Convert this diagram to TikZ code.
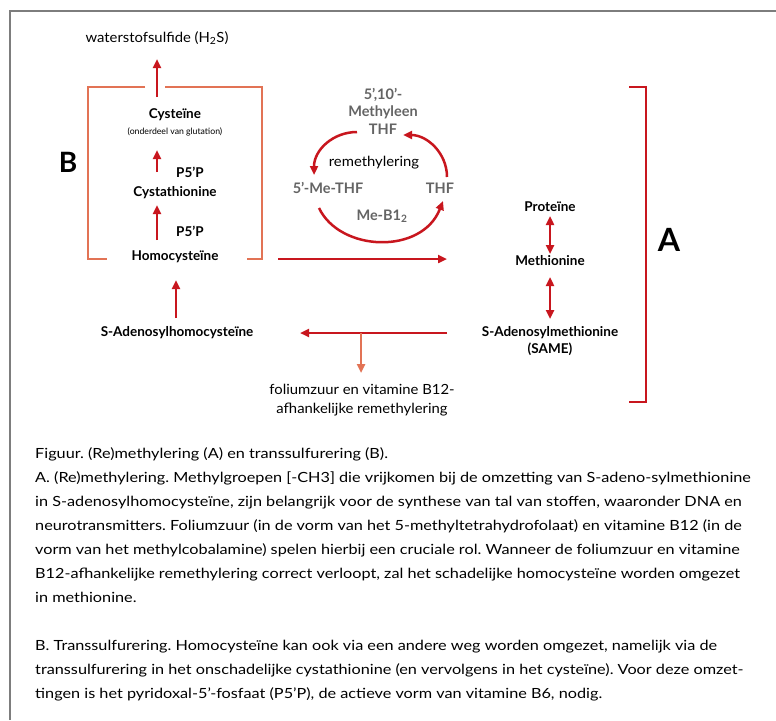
\documentclass[tikz,border=0pt]{standalone}
\usepackage{fontspec}
\setmainfont{Lato}
\newfontfamily\capfont[FakeStretch=1.16]{Lato}
\newfontfamily\regfont[FakeStretch=1.06]{Lato}
\usetikzlibrary{arrows.meta}
\definecolor{myred}{RGB}{200,22,30}
\definecolor{myorange}{RGB}{226,115,85}
\definecolor{mygray}{RGB}{100,100,100}
\definecolor{framegray}{RGB}{125,125,125}
\frenchspacing
\begin{document}
\begin{tikzpicture}[x=1pt,y=-1pt,
  lbl/.style={font=\bfseries\fontsize{13.5}{16.5}\selectfont, inner sep=0pt, align=center},
  glbl/.style={font=\bfseries\fontsize{14.5}{17.5}\selectfont, text=mygray, inner sep=0pt, align=center},
  reg/.style={font=\regfont\fontsize{14}{19.5}\selectfont, inner sep=0pt, align=center},
  smalltxt/.style={font=\fontsize{8.7}{10}\selectfont, inner sep=0pt},
  bigtxt/.style={font=\bfseries\fontsize{28}{30}\selectfont, inner sep=0pt},
  captxt/.style={font=\capfont\fontsize{14}{24}\selectfont, inner sep=0pt, anchor=base west},
  arr/.style={myred, line width=2.5pt, -{Triangle[length=9pt,width=8pt]}},
  darr/.style={myred, line width=2.5pt, {Triangle[length=9pt,width=8pt]}-{Triangle[length=9pt,width=8pt]}},
  oarr/.style={myorange, line width=2.5pt, -{Triangle[length=9pt,width=8pt]}},
  brB/.style={myorange, line width=2.5pt},
  brA/.style={myred, line width=2.5pt}
]
\useasboundingbox (0,0) rectangle (776,720);
\fill[white] (0,0) rectangle (776,720);
% frame
\draw[framegray, line width=2pt] (10,720) -- (10,11) -- (776,11);

% ---- B part ----
\node[reg] (h2s) at (157,38) {waterstofsulfide (H\textsubscript{2}S)};
\node[lbl] (cys) at (175,115) {Cysteïne};
\node[smalltxt] (glut) at (175,132) {(onderdeel van glutation)};
\node[lbl] (p1) at (190,172) {P5’P};
\node[lbl] (cysta) at (175,193) {Cystathionine};
\node[lbl] (p2) at (190,231) {P5’P};
\node[lbl] (homo) at (175,257) {Homocysteïne};
\node[bigtxt] (B) at (68,162) {B};

\coordinate (a0s) at (157,97);
\coordinate (a0e) at (157,59);
\coordinate (a1s) at (157,172);
\coordinate (a1e) at (157,150);
\coordinate (a2s) at (157,240);
\coordinate (a2e) at (157,205);
\draw[arr] (a0s) -- (a0e);
\draw[arr] (a1s) -- (a1e);
\draw[arr] (a2s) -- (a2e);

% bracket B
\draw[brB] (145,87) -- (88,87) -- (88,259) -- (107,259);
\draw[brB] (165,87) -- (262,87) -- (262,259) -- (247,259);

% ---- bottom left ----
\node[lbl] (sah) at (177,333) {S-Adenosylhomocysteïne};
\coordinate (a3s) at (176,318);
\coordinate (a3e) at (176,280);
\draw[arr] (a3s) -- (a3e);

% horizontal arrow homocysteine -> methionine
\coordinate (hs) at (278,259);
\coordinate (he) at (447,259);
\draw[arr] (hs) -- (he);

% ---- right column ----
\node[lbl] (prot) at (550,207) {Proteïne};
\node[lbl] (meth) at (550,261) {Methionine};
\node[lbl] (same) at (550,341) {S-Adenosylmethionine\\(SAME)};
\coordinate (d1a) at (550,216);
\coordinate (d1b) at (550,254);
\coordinate (d2a) at (550,277);
\coordinate (d2b) at (550,319);
\draw[darr] (d1a) -- (d1b);
\draw[darr] (d2a) -- (d2b);

% SAME -> SAH arrow
\coordinate (ls) at (447,333);
\coordinate (le) at (300,333);
\draw[arr] (ls) -- (le);
\coordinate (os) at (361,333);
\node[reg] (fol) at (362,400) {foliumzuur en vitamine B12-\\afhankelijke remethylering};
\coordinate (oe) at (361,373);
\draw[oarr] (os) -- (oe);

% bracket A
\draw[brA] (629,87) -- (646,87) -- (646,402) -- (629,402);
\node[bigtxt, font=\bfseries\fontsize{32}{34}\selectfont] (A) at (669,240) {A};

% ---- cycle ----
\node[glbl] (mthf) at (383,111) {5’,10’-\\Methyleen\\THF};
\node[reg] (remeth) at (374,163) {remethylering};
\node[glbl] (methf) at (328,188) {5’-Me-THF};
\node[glbl] (thf) at (440,188) {THF};
\node[glbl] (b12) at (382,216) {Me-B1\textsubscript{2}};
\coordinate (c1s) at (357,132);
\coordinate (c1e) at (314,175);
\coordinate (c2s) at (447,177);
\coordinate (c2e) at (403,135);
\coordinate (c3s) at (319,208);
\coordinate (c3e) at (443,201);
\draw[arr] (c1s) .. controls (333,132) and (314,150) .. (c1e);
\draw[arr] (c2s) .. controls (447,153) and (427,135) .. (c2e);
\draw[arr] (c3s) .. controls (340,252) and (422,255) .. (c3e);

% ---- caption ----
\node[captxt] (l0) at (35,458) {Figuur. (Re)methylering (A) en transsulfurering (B).};
\node[captxt] (l1) at (35,482) {A. (Re)methylering. Methylgroepen [-CH3] die vrijkomen bij de omzetting van S-adeno-sylmethionine};
\node[captxt] (l2) at (35,506) {in S-adenosylhomocysteïne, zijn belangrijk voor de synthese van tal van stoffen, waaronder DNA en};
\node[captxt] (l3) at (35,530) {neurotransmitters. Foliumzuur (in de vorm van het 5-methyltetrahydrofolaat) en vitamine B12 (in de};
\node[captxt] (l4) at (35,554) {vorm van het methylcobalamine) spelen hierbij een cruciale rol. Wanneer de foliumzuur en vitamine};
\node[captxt] (l5) at (35,578) {B12-afhankelijke remethylering correct verloopt, zal het schadelijke homocysteïne worden omgezet};
\node[captxt] (l6) at (35,602) {in methionine.};
\node[captxt] (l7) at (35,650) {B. Transsulfurering. Homocysteïne kan ook via een andere weg worden omgezet, namelijk via de};
\node[captxt] (l8) at (35,674) {transsulfurering in het onschadelijke cystathionine (en vervolgens in het cysteïne). Voor deze omzet-};
\node[captxt] (l9) at (35,698) {tingen is het pyridoxal-5’-fosfaat (P5’P), de actieve vorm van vitamine B6, nodig.};
\end{tikzpicture}
\end{document}
